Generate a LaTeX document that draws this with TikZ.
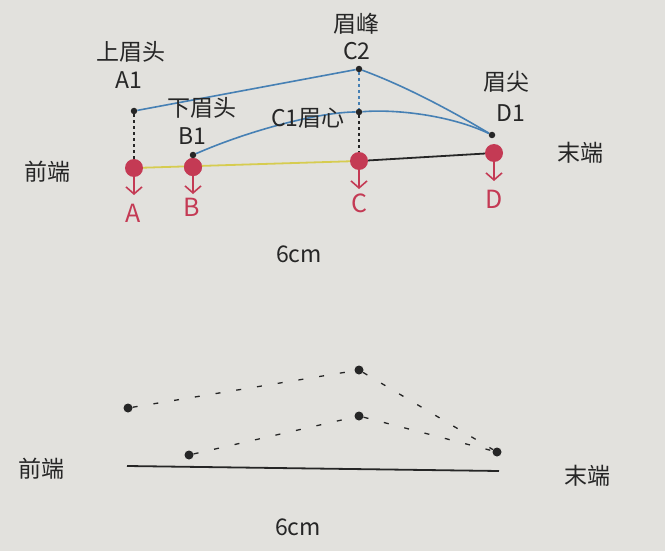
\documentclass[tikz,border=0pt]{standalone}
\usepackage{fontspec}
\setmainfont{Noto Sans CJK SC}
\usetikzlibrary{arrows.meta}
\definecolor{bg}{RGB}{226,225,221}
\definecolor{ink}{RGB}{38,38,38}
\definecolor{rosered}{RGB}{196,58,84}
\definecolor{browblue}{RGB}{70,128,180}
\definecolor{lineyellow}{RGB}{214,204,80}
\tikzset{
  lbl/.style={text=ink, font=\fontsize{23}{25}\selectfont, inner sep=0pt},
  redlbl/.style={text=rosered, font=\fontsize{25}{27}\selectfont, inner sep=0pt},
  reddot/.style={circle, fill=rosered, minimum size=18pt, inner sep=0pt},
  blackdot/.style={circle, fill=ink, minimum size=6.5pt, inner sep=0pt},
  bigdot/.style={circle, fill=ink, minimum size=9pt, inner sep=0pt},
  vdash/.style={ink, line width=1.3pt, dash pattern=on 3pt off 3pt},
  brow/.style={browblue, line width=1.6pt},
  downarrow/.style={rosered, line width=1.6pt, -{Straight Barb[length=7pt,width=16pt,line width=1.6pt]}},
  sparse/.style={ink, line width=1.3pt, dash pattern=on 5pt off 16pt}
}
\begin{document}
\begin{tikzpicture}[x=1pt,y=-1pt]
\fill[bg] (0,0) rectangle (665,551);
\useasboundingbox (0,0) rectangle (665,551);
% --- top diagram ---
\node[reddot] (A) at (134,168) {};
\node[reddot] (B) at (193,167) {};
\node[reddot] (C) at (359,161) {};
\node[reddot] (D) at (494,153) {};
\draw[lineyellow, line width=1.8pt] (A) -- (C);
\draw[ink, line width=1.8pt] (C) -- (D);
\node[reddot] at (B) {};
\node[blackdot] (A1) at (134,111) {};
\node[blackdot] (B1) at (193,155) {};
\node[blackdot] (C2) at (359,69) {};
\node[blackdot] (C1) at (359,112) {};
\node[blackdot] (D1) at (492,135) {};
\draw[vdash] (A1) -- (A);
\draw[vdash, browblue] (C2) -- (C1);
\draw[vdash] (C1) -- (C);
\draw[brow] (A1) -- (C2);
\draw[brow] (C2) .. controls (405,86) and (450,110) .. (D1);
\draw[brow] (B1) .. controls (250,130) and (320,112) .. (C1);
\draw[brow] (C1) .. controls (395,109) and (450,115) .. (D1);
\coordinate (Ae) at (134,195);
\coordinate (Be) at (193,194);
\coordinate (Ce) at (359,189);
\coordinate (De) at (494,181);
\draw[downarrow] (A) -- (Ae);
\draw[downarrow] (B) -- (Be);
\draw[downarrow] (C) -- (Ce);
\draw[downarrow] (D) -- (De);
\node[redlbl] (Al) at (133,213) {A};
\node[redlbl] (Bl) at (192,207) {B};
\node[redlbl] (Cl) at (359,203) {C};
\node[redlbl] (Dl) at (494,199) {D};
\node[lbl] (tA) at (131,52) {上眉头};
\node[lbl] (tA1) at (129,80) {A1};
\node[lbl] (tB) at (202,108) {下眉头};
\node[lbl] (tB1) at (192,136) {B1};
\node[lbl] (tC2a) at (356,24) {眉峰};
\node[lbl] (tC2) at (357,51) {C2};
\node[lbl] (tC1) at (308,118) {C1眉心};
\node[lbl] (tD) at (506,82) {眉尖};
\node[lbl] (tD1) at (511,113) {D1};
\node[lbl] (front1) at (47,172) {前端};
\node[lbl] (end1) at (580,153) {末端};
\node[lbl] (len1) at (299,254) {6cm};
% --- bottom diagram ---
\node[bigdot] (a) at (128,408) {};
\node[bigdot] (c2) at (359,370) {};
\node[bigdot] (c1) at (359,416) {};
\node[bigdot] (b) at (189,455) {};
\node[bigdot] (d) at (497,452) {};
\draw[sparse] (a) -- (c2);
\draw[sparse] (c2) -- (d);
\draw[sparse] (b) -- (c1);
\draw[sparse] (c1) -- (d);
\coordinate (L0) at (127,466);
\coordinate (L1) at (499,471);
\draw[ink, line width=1.8pt] (L0) -- (L1);
\node[lbl] (front2) at (42,469) {前端};
\node[lbl] (end2) at (587,476) {末端};
\node[lbl] (len2) at (298,527) {6cm};
\end{tikzpicture}
\end{document}
